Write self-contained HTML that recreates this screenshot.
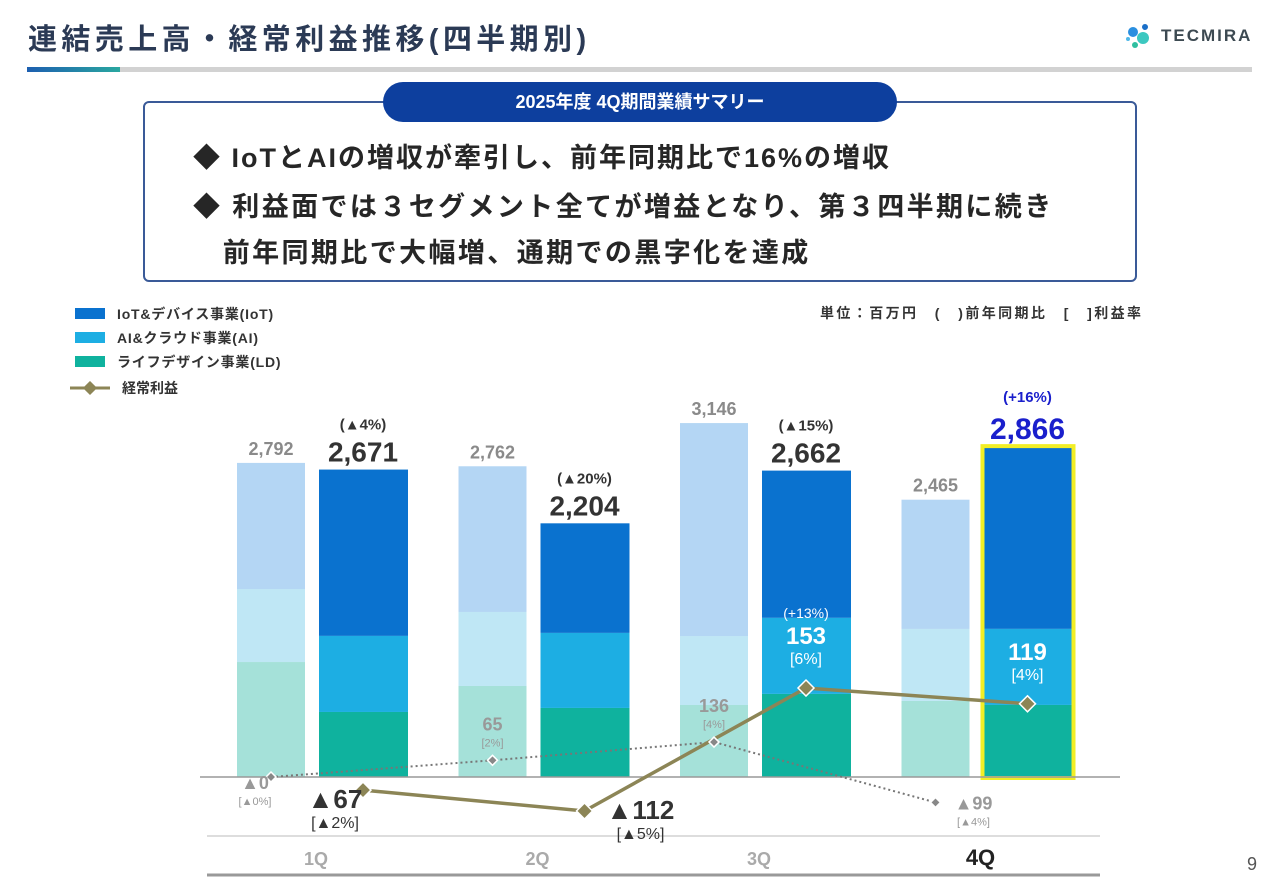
<!DOCTYPE html>
<html><head><meta charset="utf-8"><style>
body{margin:0;width:1280px;height:886px;background:#fff;font-family:"Liberation Sans","Noto Sans CJK JP",sans-serif;overflow:hidden;position:relative}
.abs{position:absolute}
</style></head><body>
<div class="abs" style="left:28px;top:16px;font-size:29px;font-weight:bold;color:#2b3a55;letter-spacing:4.4px;white-space:nowrap">連結売上高・経常利益推移(四半期別)</div>
<div class="abs" style="left:27px;top:67px;width:1225px;height:5px;background:#d2d2d2"></div>
<div class="abs" style="left:27px;top:67px;width:93px;height:5px;background:linear-gradient(90deg,#1d5fb0,#2aa7a0)"></div>
<div class="abs" style="left:1125px;top:22px;display:flex;align-items:center">
<svg width="30" height="28"><circle cx="8" cy="10" r="5" fill="#2a8fe0"/><circle cx="18" cy="16" r="6" fill="#3cc8c0"/><circle cx="20" cy="5" r="3" fill="#1a6fc8"/><circle cx="10" cy="23" r="3" fill="#2fbfa0"/><circle cx="3" cy="17" r="2" fill="#50b8e8"/></svg>
<span style="font-size:17px;font-weight:bold;color:#3d4a52;letter-spacing:2px;margin-left:6px">TECMIRA</span></div>
<div class="abs" style="left:143px;top:101px;width:990px;height:177px;border:2px solid #3a5a98;border-radius:6px"></div>
<div class="abs" style="left:383px;top:82px;width:514px;height:40px;background:#0d3f9e;border-radius:20px;color:#fff;font-size:18px;font-weight:bold;text-align:center;line-height:40px">2025年度 4Q期間業績サマリー</div>
<div class="abs" style="left:193px;top:136px;font-size:27px;font-weight:bold;color:#262626;letter-spacing:2px;white-space:nowrap">◆ IoTとAIの増収が牽引し、前年同期比で16%の増収</div>
<div class="abs" style="left:193px;top:184px;font-size:27px;font-weight:bold;color:#262626;line-height:46px;letter-spacing:2.4px;white-space:nowrap">◆ 利益面では３セグメント全てが増益となり、第３四半期に続き<br>&nbsp;&nbsp;&nbsp;前年同期比で大幅増、通期での黒字化を達成</div>
<div class="abs" style="left:820px;top:303px;font-size:14px;font-weight:bold;color:#333;letter-spacing:2.4px;white-space:nowrap">単位：百万円　(　)前年同期比　[　]利益率</div>
<div class="abs" style="left:1247px;top:854px;font-size:18px;color:#555">9</div>
<svg class="abs" id="chart" style="left:0;top:0" width="1280" height="886"></svg>
<script>
const quarters=["1Q","2Q","3Q","4Q"];
const prevIoT=[1121,1295,1893,1149];
const prevAI=[649,658,613,640];
const prevLD=[1022,809,640,676];
const prevTotal=["2,792","2,762","3,146","2,465"];
const curIoT=[1445,952,1279,1579];
const curAI=[661,652,661,661];
const curLD=[565,600,722,626];
const curTotal=["2,671","2,204","2,662","2,866"];
const curYoY=["(▲4%)","(▲20%)","(▲15%)","(+16%)"];
const curProfit=[-67,-112,153,119];
const curProfitLbl=["▲67","▲112","153","119"];
const curMargin=["[▲2%]","[▲5%]","[6%]","[4%]"];
const prevProfit=[0,65,136,-99];
const prevProfitLbl=["▲0","65","136","▲99"];
const prevMargin=["[▲0%]","[2%]","[4%]","[▲4%]"];
const NS="http://www.w3.org/2000/svg";
const svg=document.getElementById('chart');
const base=777,k=0.1151,kp=0.1125;
const y=v=>base-v*k;
const yp=v=>base-v*kp;
const yCur=v=>759-v*0.464;
const yPrev=v=>777-v*0.257;
const xPrev=i=>237+i*221.5, xCur=i=>319+i*221.5;
function mk(t,a,txt){const e=document.createElementNS(NS,t);for(const n in a)e.setAttribute(n,a[n]);if(txt!=null)e.textContent=txt;svg.appendChild(e);return e;}
function segs(x,w,arr,cols,pre,sc){let acc=0;arr.forEach((v,j)=>{const r=mk('rect',{x:x,y:base-(acc+v)*sc,width:w,height:v*sc,fill:cols[j]});


acc+=v;});return acc;}
quarters.forEach((q,i)=>{
 const pt=segs(xPrev(i),68,[prevLD[i],prevAI[i],prevIoT[i]],['#a5e1d9','#bfe7f5','#b4d6f4'],'prev-bar-'+q,kp);
 const t1=mk('text',{x:xPrev(i)+34,y:yp(pt)-8,'text-anchor':'middle','font-size':18,'font-weight':'bold',fill:'#8a8a8a'},prevTotal[i]);
 
 
 const ct=segs(xCur(i),89,[curLD[i],curAI[i],curIoT[i]],['#0fb29e','#1daee3','#0a72cf'],'cur-bar-'+q,k);
 const last=i===3;
 const t2=mk('text',{x:xCur(i)+44,y:y(ct)-8,'text-anchor':'middle','font-size':last?30:28,'font-weight':'bold',fill:last?'#1a1fcc':'#333'},curTotal[i]);
 
 
 const t3=mk('text',{x:xCur(i)+44,y:y(ct)-(last?45:40),'text-anchor':'middle','font-size':15,'font-weight':'bold',fill:last?'#1a1fcc':'#333'},curYoY[i]);
 
 
 const ql=mk('text',{x:xCur(i)-3,y:865,'text-anchor':'middle','font-size':last?22:18,'font-weight':'bold',fill:last?'#222':'#aaa'},q);
 
 
});
const hl=mk('rect',{x:xCur(3)-1,y:y(curIoT[3]+curAI[3]+curLD[3])-1,width:91,height:(curIoT[3]+curAI[3]+curLD[3])*k+2,fill:'none',stroke:'#f2ee25','stroke-width':4});


const ax=mk('line',{x1:200,x2:1120,y1:base,y2:base,stroke:'#999','stroke-width':1.5});


const s1=mk('line',{x1:207,x2:1100,y1:836,y2:836,stroke:'#ddd','stroke-width':2});


const s2=mk('line',{x1:207,x2:1100,y1:875,y2:875,stroke:'#999','stroke-width':3});


const pp=mk('polyline',{points:prevProfit.map((v,i)=>(xPrev(i)+34)+','+yPrev(v)).join(' '),fill:'none',stroke:'#777','stroke-width':2,'stroke-dasharray':'2,3'});


const cp=mk('polyline',{points:curProfit.map((v,i)=>(xCur(i)+44)+','+yCur(v)).join(' '),fill:'none',stroke:'#8c8556','stroke-width':3.5});


function diamond(cx,cy,r,fill,stroke,name){const d=mk('polygon',{points:`${cx},${cy-r} ${cx+r},${cy} ${cx},${cy+r} ${cx-r},${cy}`,fill:fill,stroke:stroke,'stroke-width':1.5});

}
quarters.forEach((q,i)=>{
 const px=xPrev(i)+34,py=yPrev(prevProfit[i]);
 diamond(px,py,5,'#888','#fff','prev-profit-point-'+q);
 let lx,ly;
 if(prevProfit[i]<0){lx=px+38;ly=py+7;}
 else if(prevProfit[i]===0){lx=px-16;ly=py+12;}
 else {lx=px;ly=py-30;}
 const a=mk('text',{x:lx,y:ly,'text-anchor':'middle','font-size':18,'font-weight':'bold',fill:'#999'},prevProfitLbl[i]);
 
 
 const b=mk('text',{x:lx,y:ly+16,'text-anchor':'middle','font-size':11,fill:'#999'},prevMargin[i]);
 
 
 const cx=xCur(i)+44,cy=yCur(curProfit[i]);
 diamond(cx,cy,8,'#8c8556','#fff','profit-point-'+q);
 const n=curProfit[i]<0;
 const clx=n?cx-(i===0?28:-56):cx, cly=n?cy+(i===0?18:8):cy-44;
 const c=mk('text',{x:clx,y:cly,'text-anchor':'middle','font-size':n?26:24,'font-weight':'bold',fill:n?'#333':'#fff'},curProfitLbl[i]);
 
 
 const m=mk('text',{x:clx,y:cly+20,'text-anchor':'middle','font-size':16,fill:n?'#333':'#fff'},curMargin[i]);
 
 
});
const yo=mk('text',{x:xCur(2)+44,y:yCur(153)-70,'text-anchor':'middle','font-size':14,fill:'#fff'},"(+13%)");


const legC=['#0a72cf','#1daee3','#0fb29e'],legT=['IoT&デバイス事業(IoT)','AI&クラウド事業(AI)','ライフデザイン事業(LD)'];
legC.forEach((c,j)=>{const r=mk('rect',{x:75,y:308+j*24,width:30,height:11,fill:c});


const t=mk('text',{x:117,y:319+j*24,'font-size':14,'font-weight':'bold',fill:'#333','letter-spacing':'0.8'},legT[j]);

});
const ll=mk('line',{x1:70,x2:110,y1:388,y2:388,stroke:'#8c8556','stroke-width':3});


diamond(90,388,6,'#8c8556','#8c8556','legend-diamond');
const lt=mk('text',{x:122,y:393,'font-size':14,'font-weight':'bold',fill:'#333'},'経常利益');


</script>
</body></html>
